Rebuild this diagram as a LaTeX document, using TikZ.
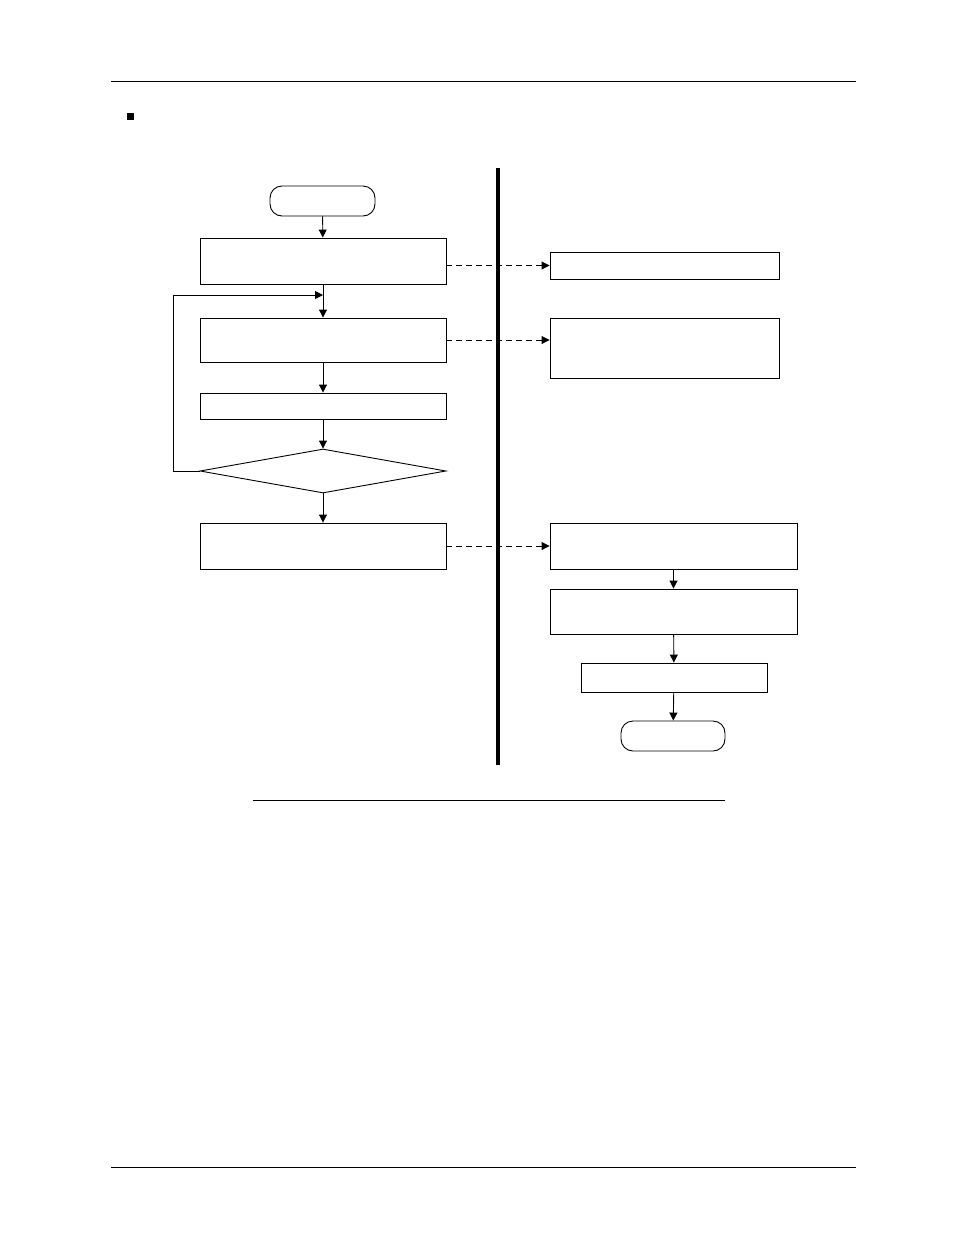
\documentclass[tikz,border=0pt]{standalone}
\usetikzlibrary{arrows.meta,shapes.geometric}
\begin{document}
\begin{tikzpicture}[x=1pt,y=-1pt,line width=0.9pt,
  arr/.style={-{Triangle[length=8pt,width=8pt]}},
  darr/.style={arr,dashed,dash pattern=on 6pt off 4pt},
  bx/.style={draw,rectangle,inner sep=0pt}]
\useasboundingbox (0,0) rectangle (954,1235);
\draw (111,81) -- (856,81);
\draw (111,1167) -- (856,1167);
\fill (127,113) rectangle (134,120);
\draw[line width=4pt] (498,168) -- (498,765);
\draw (253,800) -- (725,800);
\node (st) [draw,rounded corners=12pt,minimum width=105pt,minimum height=30pt] at (322.5,201) {};
\node (a) [bx,minimum width=246pt,minimum height=46pt] at (323,261) {};
\node (b) [bx,minimum width=246pt,minimum height=44pt] at (323,340) {};
\node (c) [bx,minimum width=246pt,minimum height=26pt] at (323,406) {};
\node (d) [draw,diamond,aspect=5.6,inner sep=0pt,minimum width=246pt,minimum height=44pt] at (323,471) {};
\node (e) [bx,minimum width=246pt,minimum height=46pt] at (323,546) {};
\node (r1) [bx,minimum width=229pt,minimum height=27pt] at (664.5,265.5) {};
\node (r2) [bx,minimum width=229pt,minimum height=60pt] at (664.5,348) {};
\node (r3) [bx,minimum width=247pt,minimum height=46pt] at (673.5,546) {};
\node (r4) [bx,minimum width=247pt,minimum height=45pt] at (673.5,611.5) {};
\node (r5) [bx,minimum width=186pt,minimum height=29pt] at (674,677.5) {};
\node (en) [draw,rounded corners=12pt,minimum width=104pt,minimum height=30pt] at (673,736) {};
\coordinate (j) at (323,295);
\draw[arr] (st) -- (a);
\draw[arr] (a) -- (b);
\draw[arr] (b) -- (c);
\draw[arr] (c) -- (d);
\draw[arr] (d) -- (e);
\draw[arr] (d.west) -- (173,471) -- (173,295) -- (j);
\draw[darr] (a.east |- r1) -- (r1.west);
\draw[darr] (b.east) -- (b.east -| r2.west);
\draw[darr] (e.east) -- (r3.west);
\draw[arr] (r3) -- (r4);
\draw[arr] (r4) -- (r5);
\draw[arr] (r5) -- (en);
\end{tikzpicture}
\end{document}
